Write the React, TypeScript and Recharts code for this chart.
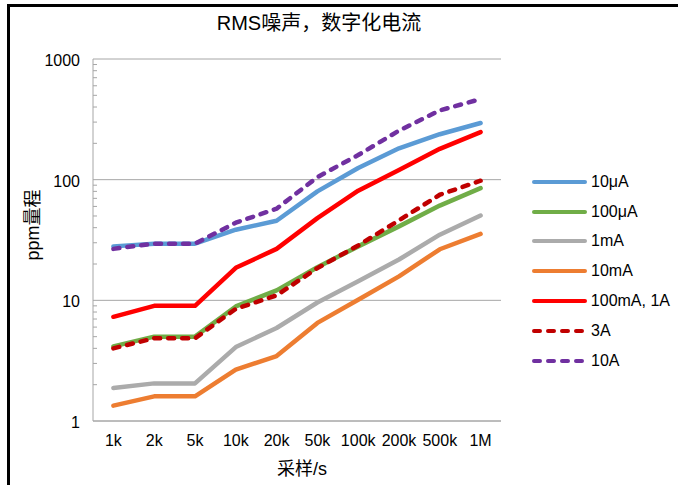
import React from 'react';
import { LineChart, Line, XAxis, YAxis, CartesianGrid, Legend } from 'recharts';

const categories = ['1k', '2k', '5k', '10k', '20k', '50k', '100k', '200k', '500k', '1M'];

const s10uA = [28, 29.5, 29.5, 38.5, 45.7, 80, 125, 182, 238, 295];
const s100uA = [4.15, 5.0, 5.0, 8.9, 12.1, 18.8, 28, 41, 61, 85];
const s1mA = [1.88, 2.05, 2.05, 4.1, 5.9, 9.6, 14.4, 21.8, 35, 50.5];
const s10mA = [1.34, 1.6, 1.6, 2.67, 3.45, 6.5, 10.1, 15.8, 26.5, 35.5];
const s100mA = [7.3, 9.0, 9.0, 18.6, 26.7, 48, 81, 120, 180, 248];
const s3A = [4.0, 4.85, 4.85, 8.5, 11, 18.5, 28.5, 46, 75, 98];
const s10A = [26.7, 29.5, 29.5, 44, 57.5, 105, 160, 255, 375, 466];

const majorTicks = [1, 10, 100, 1000];
const yTicks = [
  1, 2, 3, 4, 5, 6, 7, 8, 9,
  10, 20, 30, 40, 50, 60, 70, 80, 90,
  100, 200, 300, 400, 500, 600, 700, 800, 900,
  1000,
];

const series = [
  { key: 'a', name: '10μA', values: s10uA, color: '#5B9BD5', dashed: false },
  { key: 'b', name: '100μA', values: s100uA, color: '#70AD47', dashed: false },
  { key: 'c', name: '1mA', values: s1mA, color: '#ABABAB', dashed: false },
  { key: 'd', name: '10mA', values: s10mA, color: '#ED7D31', dashed: false },
  { key: 'e', name: '100mA, 1A', values: s100mA, color: '#FF0000', dashed: false },
  { key: 'f', name: '3A', values: s3A, color: '#C00000', dashed: true },
  { key: 'g', name: '10A', values: s10A, color: '#7030A0', dashed: true },
];

const data = categories.map((rate, i) => {
  const row: Record<string, string | number> = { rate };
  series.forEach((s) => {
    row[s.key] = s.values[i];
  });
  return row;
});

const FONT = '"Liberation Sans", Arial, "Noto Sans CJK SC", sans-serif';
const AXIS_GRAY = '#a6a6a6';
const DASH = '6 8';
const Y_TICK_MARGIN = 13;

const YTick = (props: any) => {
  const { x, y, payload } = props;
  const v = payload.value;
  if (majorTicks.includes(v)) {
    return (
      <text x={x} y={y} dy={7} textAnchor="end" fontSize={16} fill="#000" fontFamily={FONT}>
        {v}
      </text>
    );
  }
  const ax = x + Y_TICK_MARGIN;
  return <line x1={ax} x2={ax + 4} y1={y} y2={y} stroke={AXIS_GRAY} strokeWidth={1} />;
};

const LegendContent = () => (
  <div style={{ fontFamily: FONT, fontSize: 16, color: '#000' }}>
    {series.map((s) => (
      <div key={s.key} style={{ display: 'flex', alignItems: 'center', height: 29.8 }}>
        <svg width={60} height={10} style={{ display: 'block' }}>
          <line
            x1={4}
            x2={55}
            y1={5}
            y2={5}
            stroke={s.color}
            strokeWidth={4}
            strokeLinecap="round"
            strokeDasharray={s.dashed ? DASH : undefined}
          />
        </svg>
        <span style={{ marginLeft: 1, whiteSpace: 'nowrap' }}>{s.name}</span>
      </div>
    ))}
  </div>
);

export default function App() {
  return (
    <div
      style={{
        position: 'fixed',
        left: 0,
        top: 0,
        width: 678,
        height: 485,
        overflow: 'hidden',
        background: '#fff',
        fontFamily: FONT,
      }}
    >
      <div
        style={{
          position: 'absolute',
          left: 7,
          top: 4,
          width: 720,
          height: 520,
          borderLeft: '3px solid #000',
          borderTop: '3px solid #000',
          boxSizing: 'border-box',
        }}
      />
      <div
        style={{
          position: 'absolute',
          left: 0,
          top: 11,
          width: 638,
          textAlign: 'center',
          fontSize: 20,
          lineHeight: '24px',
          color: '#000',
        }}
      >
        RMS噪声，数字化电流
      </div>
      <div style={{ position: 'absolute', left: 0, top: 0 }}>
        <LineChart
          width={678}
          height={485}
          data={data}
          margin={{ top: 59, right: 177, left: 0, bottom: 34 }}
          style={{ fontFamily: FONT }}
        >
          <CartesianGrid vertical={false} horizontalValues={majorTicks} stroke={AXIS_GRAY} strokeWidth={1} />
          <XAxis
            dataKey="rate"
            type="category"
            height={30}
            padding={{ left: 20.4, right: 20.4 }}
            tickLine={false}
            tickSize={0}
            tickMargin={14}
            axisLine={{ stroke: AXIS_GRAY, strokeWidth: 1 }}
            tick={{ fontSize: 16, fill: '#000' }}
            interval={0}
            label={(p: any) => (
              <text x={302} y={475} textAnchor="middle" fontSize={18} fill="#000" fontFamily={FONT}>
                采样/s
              </text>
            )}
          />
          <YAxis
            type="number"
            scale="log"
            domain={[1, 1000]}
            allowDataOverflow
            ticks={yTicks}
            interval={0}
            width={93}
            tickLine={false}
            tickSize={0}
            tickMargin={Y_TICK_MARGIN}
            axisLine={{ stroke: AXIS_GRAY, strokeWidth: 1 }}
            tick={<YTick />}
            label={(p: any) => (
              <text
                x={39}
                y={225}
                textAnchor="middle"
                fontSize={18}
                fill="#000"
                fontFamily={FONT}
                transform="rotate(-90 39 225)"
              >
                ppm量程
              </text>
            )}
          />
          <Legend
            layout="horizontal"
            align="center"
            verticalAlign="middle"
            content={<LegendContent />}
            wrapperStyle={{ left: 530, top: 167, width: 140 }}
          />
          {series.map((s) => (
            <Line
              key={s.key}
              type="linear"
              dataKey={s.key}
              name={s.name}
              stroke={s.color}
              strokeWidth={4.5}
              strokeLinecap="round"
              strokeLinejoin="round"
              strokeDasharray={s.dashed ? DASH : undefined}
              dot={false}
              activeDot={false}
              isAnimationActive={false}
            />
          ))}
        </LineChart>
      </div>
    </div>
  );
}
